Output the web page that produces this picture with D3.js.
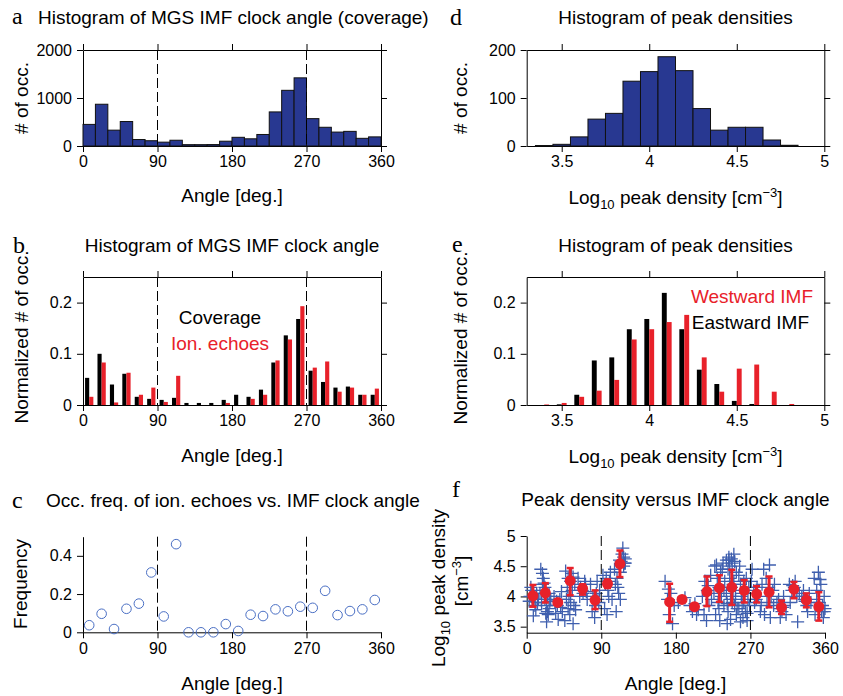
<!DOCTYPE html>
<html>
<head>
<meta charset="utf-8">
<script src="https://cdn.jsdelivr.net/npm/d3@7"></script>
<style>
  body { margin: 0; background: #fff; }
  text { font-family: "Liberation Sans", Arial, Helvetica, sans-serif; }
</style>
</head>
<body>
<div id="vis"></div>
<script>
// ---- data ----
// clock angle bins (start of each 15 deg bin)
const clockBins = [0, 15, 30, 45, 60, 75, 90, 105, 120, 135, 150, 165,
                   180, 195, 210, 225, 240, 255, 270, 285, 300, 315, 330, 345]
const coverageCounts = [450, 870, 330, 510, 135, 110, 80, 120, 28, 28, 30, 100,
                        181, 150, 240, 710, 1160, 1420, 570, 390, 290, 305, 160, 190]
const coverageNorm = [0.053, 0.100, 0.040, 0.061, 0.016, 0.012, 0.010, 0.014, 0.004, 0.004, 0.004, 0.010,
                      0.020, 0.016, 0.030, 0.083, 0.136, 0.168, 0.067, 0.045, 0.034, 0.036, 0.020, 0.020]
const echoesNorm = [0.016, 0.083, 0.005, 0.063, 0.020, 0.034, 0.006, 0.057, 0, 0, 0, 0.004,
                    0, 0.012, 0.020, 0.087, 0.128, 0.193, 0.073, 0.085, 0.026, 0.034, 0.020, 0.032]
const echoFreq = [0.037, 0.097, 0.017, 0.123, 0.150, 0.313, 0.083, 0.461, 0, 0, 0, 0.043,
                  0.007, 0.092, 0.085, 0.120, 0.110, 0.134, 0.128, 0.217, 0.090, 0.111, 0.120, 0.169]

// log10 peak density bin centres (0.1 wide)
const densityBins = [3.4, 3.5, 3.6, 3.7, 3.8, 3.9, 4.0, 4.1, 4.2, 4.3, 4.4, 4.5, 4.6, 4.7, 4.8]
const densityCounts = [1, 3.5, 19, 56, 68, 135, 155, 186, 157, 78, 33, 39, 39, 12.5, 1.5]
const eastNorm = [0, 0.0013, 0.020, 0.087, 0.093, 0.148, 0.168, 0.219, 0.148, 0.069, 0.041, 0.008, 0.002, 0, 0]
const westNorm = [0.001, 0.004, 0.016, 0.028, 0.049, 0.128, 0.148, 0.162, 0.176, 0.093, 0.026, 0.071, 0.079, 0.026, 0.002]

// bin means of peak density vs clock angle (with spread)
const meanAngle = [7.5, 22.5, 37.5, 52.5, 67.5, 82.5, 97.5, 112.5, 172.5, 187.5, 202.5,
                   217.5, 232.5, 247.5, 262.5, 277.5, 292.5, 307.5, 322.5, 337.5, 352.5]
const meanDensity = [4.01, 4.06, 3.90, 4.26, 4.13, 3.94, 4.21, 4.54, 3.91, 3.95, 3.83,
                     4.08, 4.14, 4.15, 4.10, 4.04, 4.07, 3.82, 4.12, 3.94, 3.83]
const densityLow = [3.83, 3.90, 3.87, 4.02, 4.03, 3.79, 4.14, 4.32, 3.58, 3.95, 3.80,
                    3.84, 3.91, 3.86, 3.90, 3.90, 3.82, 3.71, 3.97, 3.82, 3.60]
const densityHigh = [4.19, 4.22, 3.93, 4.47, 4.20, 4.10, 4.28, 4.76, 4.21, 3.95, 3.86,
                     4.33, 4.35, 4.44, 4.27, 4.17, 4.33, 3.93, 4.24, 4.05, 4.07]

// individual echoes [clock angle, log10 peak density]
const peakPoints = [
  [5,4.15],[3,3.92],[10,3.85],[12,4.05],[8,3.68],[14,3.95],[6,4.1],[11,3.78],[4,4.0],[13,3.9],
  [17,4.45],[20,4.3],[22,4.15],[25,4.0],[18,3.9],[27,3.8],[23,3.72],[19,4.38],[28,3.92],[16,4.05],[24,3.58],[21,4.22],[26,3.7],[29,3.95],
  [20,4.1],[24,3.85],[27,4.05],[22,3.95],[25,3.75],[19,4.2],
  [33,4.0],[37,3.85],[40,3.95],[43,3.75],[35,3.72],[42,4.08],[38,3.62],[36,3.92],[41,3.82],
  [47,4.42],[50,4.3],[53,4.25],[55,4.1],[48,3.95],[57,3.85],[52,3.7],[58,4.2],[46,3.6],[54,4.38],[59,3.78],[51,4.0],[56,3.55],
  [49,4.15],[53,3.9],[56,4.32],[50,3.8],
  [62,4.3],[65,4.15],[68,4.05],[71,4.2],[73,3.95],[64,4.0],[70,4.25],[67,4.1],[72,4.08],
  [77,4.2],[80,4.0],[83,3.85],[86,3.95],[88,4.1],[79,3.75],[85,4.25],[82,3.65],[84,4.05],[87,3.9],
  [92,4.35],[95,4.2],[98,4.1],[100,4.25],[103,3.95],[94,3.8],[101,4.4],[97,3.7],[96,4.3],[99,4.0],
  [106,4.45],[109,4.3],[112,4.6],[115,4.7],[118,4.55],[110,4.15],[113,3.95],[116,4.8],[108,3.75],[119,4.62],[117,4.5],[111,4.05],
  [114,4.58],[117,4.65],[119,4.55],[113,4.4],[107,4.2],
  [167,4.25],[170,3.95],[172,3.7],[174,4.05],[176,3.55],[178,3.85],[171,4.12],
  [183,3.9],[191,3.98],
  [197,3.85],[200,3.75],[203,3.88],[207,3.78],[205,3.7],
  [212,4.0],[215,4.25],[218,4.1],[220,3.85],[223,3.95],[214,3.7],[222,4.35],[217,3.6],[219,4.18],
  [227,4.5],[230,4.3],[232,4.15],[235,4.0],[238,3.85],[228,3.7],[236,4.45],[233,3.6],[239,4.25],[226,4.05],[231,3.9],[237,4.55],
  [229,4.52],[234,4.4],[232,3.8],[238,4.1],
  [241,4.6],[243,4.45],[245,4.3],[247,4.15],[249,4.0],[251,3.85],[253,3.7],[242,3.55],[244,4.65],[246,3.95],
  [248,4.55],[250,4.25],[252,4.1],[254,3.8],[241,4.05],[246,3.62],[250,4.7],[253,4.4],[243,3.75],[248,3.9],
  [244,4.6],[247,4.62],[251,4.58],[245,4.5],[249,4.2],[252,3.95],[242,3.88],
  [256,4.35],[258,4.2],[260,4.05],[262,3.9],[264,3.75],[266,3.6],[268,4.15],[257,4.5],[261,3.65],[265,4.3],[269,3.85],[259,4.0],[263,4.1],[267,3.95],[256,3.8],
  [258,3.58],[262,4.25],[266,3.72],[260,3.85],
  [271,4.25],[274,4.1],[277,3.95],[280,4.0],[283,3.85],[272,4.45],[278,4.15],[282,3.75],[275,3.9],[284,4.2],[276,4.05],
  [286,4.45],[289,4.3],[292,4.15],[295,4.0],[298,3.85],[287,3.7],[294,3.65],[290,3.9],[297,4.1],[299,4.2],[293,4.52],
  [302,3.9],[305,3.8],[308,3.75],[311,3.85],[313,3.7],[304,3.95],[310,4.0],[306,3.65],[309,3.82],
  [317,4.2],[320,4.1],[323,4.15],[326,4.0],[329,4.05],[318,3.9],[324,4.25],[327,3.58],[321,4.18],
  [332,4.0],[335,3.95],[338,3.85],[341,4.05],[343,3.9],[334,4.1],[339,3.75],[336,3.92],
  [347,4.3],[350,4.1],[353,3.9],[356,3.75],[359,4.0],[348,3.7],[355,4.2],[358,3.65],[352,4.4],[357,3.85],[360,3.8],
  [354,4.28],[359,3.75],[350,3.95]
]

const angleTicks = [0, 90, 180, 270, 360]
const densityTicks = [3.5, 4, 4.5, 5]

const navy = '#283891', red = '#e8212a', blue = '#3f5fae'
const fontTick = 16, fontLabel = 19

const svg = d3.select('#vis').append('svg')
  .attr('width', 843).attr('height', 696)

// ---- helpers ----
function makeAxes(p) {
  const x = d3.scaleLinear().domain(p.xDomain).range(p.xRange)
  const y = d3.scaleLinear().domain(p.yDomain).range([p.bottom, p.top])
  const fmt = d => String(d)

  svg.append('g').attr('class', 'axis')
    .attr('transform', `translate(0,${p.bottom})`)
    .call(d3.axisBottom(x).tickValues(p.xTicks).tickSize(6).tickSizeOuter(0).tickPadding(4).tickFormat(fmt))
  svg.append('g').attr('class', 'axis')
    .attr('transform', `translate(${p.xRange[0]},0)`)
    .call(d3.axisLeft(y).tickValues(p.yTicks).tickSize(6).tickSizeOuter(0).tickPadding(5).tickFormat(fmt))
  if (p.box) {
    svg.append('g').attr('class', 'axis')
      .attr('transform', `translate(0,${p.top})`)
      .call(d3.axisTop(x).tickValues(p.xTicks).tickSize(6).tickSizeOuter(0).tickFormat(''))
    svg.append('g').attr('class', 'axis')
      .attr('transform', `translate(${p.xRange[1]},0)`)
      .call(d3.axisRight(y).tickValues(p.yTicks).tickSize(6).tickSizeOuter(0).tickFormat(''))
  }
  return { x, y }
}

function dashed(s, p) {
  [90, 270].forEach(a => {
    svg.append('line')
      .attr('x1', s.x(a)).attr('x2', s.x(a))
      .attr('y1', p.top).attr('y2', p.bottom)
      .attr('stroke', '#000').attr('stroke-width', 1)
      .attr('stroke-dasharray', '10,4')
  })
}

function label(x, y, txt, opts = {}) {
  return svg.append('text')
    .attr('x', x).attr('y', y)
    .attr('text-anchor', opts.anchor || 'middle')
    .attr('font-size', opts.size || fontLabel)
    .attr('fill', opts.fill || '#000')
    .text(txt)
}

function ylabel(x, y, txt) {
  return svg.append('text')
    .attr('transform', `translate(${x},${y}) rotate(-90)`)
    .attr('text-anchor', 'middle')
    .attr('font-size', fontLabel)
    .text(txt)
}

function letter(x, y, txt) {
  svg.append('text')
    .attr('x', x).attr('y', y)
    .style('font-family', '"Liberation Serif", "Times New Roman", serif')
    .attr('font-size', 24)
    .text(txt)
}

function densityLabel(cx, y) {
  const t = svg.append('text').attr('x', cx).attr('y', y)
    .attr('text-anchor', 'middle').attr('font-size', fontLabel)
  t.append('tspan').text('Log')
  t.append('tspan').attr('font-size', 13).attr('dy', 5).text('10')
  t.append('tspan').attr('dy', -5).text(' peak density [cm')
  t.append('tspan').attr('font-size', 13).attr('dy', -7).text('\u22123')
  t.append('tspan').attr('dy', 7).text(']')
}

// ---- panel layouts ----
const pa = { xDomain: [0, 360], xRange: [83, 381], top: 50, bottom: 146, yDomain: [0, 2000],
             xTicks: angleTicks, yTicks: [0, 1000, 2000], box: true }
const pb = { xDomain: [0, 360], xRange: [83, 381], top: 277, bottom: 405, yDomain: [0, 0.25],
             xTicks: angleTicks, yTicks: [0, 0.1, 0.2], box: true }
const pc = { xDomain: [0, 360], xRange: [83, 381], top: 536.7, bottom: 632.3, yDomain: [0, 0.5],
             xTicks: angleTicks, yTicks: [0, 0.2, 0.4], box: false }
const pd = { xDomain: [3.3, 5], xRange: [526.7, 824.3], top: 50, bottom: 146, yDomain: [0, 200],
             xTicks: densityTicks, yTicks: [0, 100, 200], box: true }
const pe = { xDomain: [3.3, 5], xRange: [526.7, 824.3], top: 277, bottom: 405, yDomain: [0, 0.25],
             xTicks: densityTicks, yTicks: [0, 0.1, 0.2], box: true }
const pf = { xDomain: [0, 360], xRange: [526.7, 825], top: 536, bottom: 632.7, yDomain: [3.4, 5],
             xTicks: angleTicks, yTicks: [3.5, 4, 4.5, 5], box: false }

// ---- a: coverage histogram ----
{
  const s = makeAxes(pa)
  svg.append('g').selectAll('rect')
    .data(clockBins.map((b, i) => ({ b, v: coverageCounts[i] })))
    .join('rect')
    .attr('x', d => s.x(d.b)).attr('width', d => s.x(d.b + 15) - s.x(d.b))
    .attr('y', d => s.y(d.v)).attr('height', d => s.y(0) - s.y(d.v))
    .attr('fill', navy).attr('stroke', '#111').attr('stroke-width', 1)
  dashed(s, pa)
  letter(12, 24, 'a')
  label(38, 24, 'Histogram of MGS IMF clock angle (coverage)', { anchor: 'start' })
  label(232, 202, 'Angle [deg.]')
  ylabel(28, 98, '# of occ.')
}

// ---- b: normalized coverage vs echoes ----
{
  const s = makeAxes(pb)
  const w = 5
  const bars = svg.append('g')
  bars.selectAll('.cov')
    .data(clockBins.map((b, i) => ({ c: b + 7.5, v: coverageNorm[i] })))
    .join('rect').attr('class', 'cov')
    .attr('x', d => s.x(d.c - w)).attr('width', d => s.x(d.c) - s.x(d.c - w))
    .attr('y', d => s.y(d.v)).attr('height', d => s.y(0) - s.y(d.v))
    .attr('fill', '#000')
  bars.selectAll('.ech')
    .data(clockBins.map((b, i) => ({ c: b + 7.5, v: echoesNorm[i] })))
    .join('rect').attr('class', 'ech')
    .attr('x', d => s.x(d.c)).attr('width', d => s.x(d.c + w) - s.x(d.c))
    .attr('y', d => s.y(d.v)).attr('height', d => s.y(0) - s.y(d.v))
    .attr('fill', red)
  dashed(s, pb)
  letter(13, 253, 'b')
  label(232, 252, 'Histogram of MGS IMF clock angle')
  label(220, 324, 'Coverage')
  label(220, 350, 'Ion. echoes', { fill: red })
  label(232, 462, 'Angle [deg.]')
  ylabel(28, 337, 'Normalized # of occ.')
}

// ---- c: occurrence frequency ----
{
  const s = makeAxes(pc)
  dashed(s, pc)
  svg.append('g').selectAll('circle')
    .data(clockBins.map((b, i) => ({ c: b + 7.5, v: echoFreq[i] })))
    .join('circle')
    .attr('cx', d => s.x(d.c)).attr('cy', d => s.y(d.v)).attr('r', 4.8)
    .attr('fill', 'none').attr('stroke', '#4a6fc4').attr('stroke-width', 1)
  letter(12, 508, 'c')
  label(233, 507, 'Occ. freq. of ion. echoes vs. IMF clock angle')
  label(232, 690, 'Angle [deg.]')
  ylabel(27, 584, 'Frequency')
}

// ---- d: peak density histogram ----
{
  const s = makeAxes(pd)
  svg.append('g').selectAll('rect')
    .data(densityBins.map((c, i) => ({ c, v: densityCounts[i] })))
    .join('rect')
    .attr('x', d => s.x(d.c - 0.05)).attr('width', d => s.x(d.c + 0.05) - s.x(d.c - 0.05))
    .attr('y', d => s.y(d.v)).attr('height', d => s.y(0) - s.y(d.v))
    .attr('fill', navy).attr('stroke', '#111').attr('stroke-width', 1)
  letter(450, 25, 'd')
  label(675.5, 24, 'Histogram of peak densities')
  densityLabel(675.5, 204)
  ylabel(467, 98, '# of occ.')
}

// ---- e: normalized peak density, east vs west ----
{
  const s = makeAxes(pe)
  const w = 0.028
  const bars = svg.append('g')
  bars.selectAll('.east')
    .data(densityBins.map((c, i) => ({ c, v: eastNorm[i] })))
    .join('rect').attr('class', 'east')
    .attr('x', d => s.x(d.c - w)).attr('width', d => s.x(d.c) - s.x(d.c - w))
    .attr('y', d => s.y(d.v)).attr('height', d => s.y(0) - s.y(d.v))
    .attr('fill', '#000')
  bars.selectAll('.west')
    .data(densityBins.map((c, i) => ({ c, v: westNorm[i] })))
    .join('rect').attr('class', 'west')
    .attr('x', d => s.x(d.c)).attr('width', d => s.x(d.c + w) - s.x(d.c))
    .attr('y', d => s.y(d.v)).attr('height', d => s.y(0) - s.y(d.v))
    .attr('fill', red)
  letter(452, 252, 'e')
  label(675.5, 252, 'Histogram of peak densities')
  label(813, 303, 'Westward IMF', { anchor: 'end', fill: red })
  label(809, 329, 'Eastward IMF', { anchor: 'end' })
  densityLabel(675.5, 463)
  ylabel(467, 338, 'Normalized # of occ.')
}

// ---- f: peak density vs clock angle ----
{
  const s = makeAxes(pf)
  const arm = 6.5
  svg.append('g').selectAll('path')
    .data(peakPoints)
    .join('path')
    .attr('d', d => {
      const cx = s.x(d[0]), cy = s.y(d[1])
      return `M${cx - arm},${cy}H${cx + arm}M${cx},${cy - arm}V${cy + arm}`
    })
    .attr('stroke', blue).attr('stroke-width', 1.3).attr('fill', 'none')
  dashed(s, pf)
  const means = meanAngle.map((a, i) => ({ a, m: meanDensity[i], lo: densityLow[i], hi: densityHigh[i] }))
  const eb = svg.append('g')
  eb.selectAll('.bar').data(means).join('line').attr('class', 'bar')
    .attr('x1', d => s.x(d.a)).attr('x2', d => s.x(d.a))
    .attr('y1', d => s.y(d.lo)).attr('y2', d => s.y(d.hi))
    .attr('stroke', red).attr('stroke-width', 3)
  eb.selectAll('.caplo').data(means).join('line').attr('class', 'caplo')
    .attr('x1', d => s.x(d.a) - 3.5).attr('x2', d => s.x(d.a) + 3.5)
    .attr('y1', d => s.y(d.lo)).attr('y2', d => s.y(d.lo))
    .attr('stroke', red).attr('stroke-width', 2.5)
  eb.selectAll('.caphi').data(means).join('line').attr('class', 'caphi')
    .attr('x1', d => s.x(d.a) - 3.5).attr('x2', d => s.x(d.a) + 3.5)
    .attr('y1', d => s.y(d.hi)).attr('y2', d => s.y(d.hi))
    .attr('stroke', red).attr('stroke-width', 2.5)
  eb.selectAll('circle').data(means).join('circle')
    .attr('cx', d => s.x(d.a)).attr('cy', d => s.y(d.m)).attr('r', 5.5)
    .attr('fill', red)
  letter(452, 497, 'f')
  label(675.5, 506, 'Peak density versus IMF clock angle')
  label(675.5, 690, 'Angle [deg.]')
  // two-line y label
  const t = svg.append('text')
    .attr('transform', 'translate(445,588) rotate(-90)')
    .attr('text-anchor', 'middle').attr('font-size', fontLabel)
  t.append('tspan').text('Log')
  t.append('tspan').attr('font-size', 13).attr('dy', 5).text('10')
  t.append('tspan').attr('dy', -5).text(' peak density')
  const t2 = svg.append('text')
    .attr('transform', 'translate(468,581) rotate(-90)')
    .attr('text-anchor', 'middle').attr('font-size', fontLabel)
  t2.append('tspan').text('[cm')
  t2.append('tspan').attr('font-size', 13).attr('dy', -7).text('\u22123')
  t2.append('tspan').attr('dy', 7).text(']')
}

// axis styling
svg.selectAll('.axis')
  .attr('font-family', null).attr('font-size', null)
svg.selectAll('.axis text').attr('font-size', fontTick).attr('fill', '#000')
svg.selectAll('.axis path, .axis line').attr('stroke', '#000')
</script>
</body>
</html>
